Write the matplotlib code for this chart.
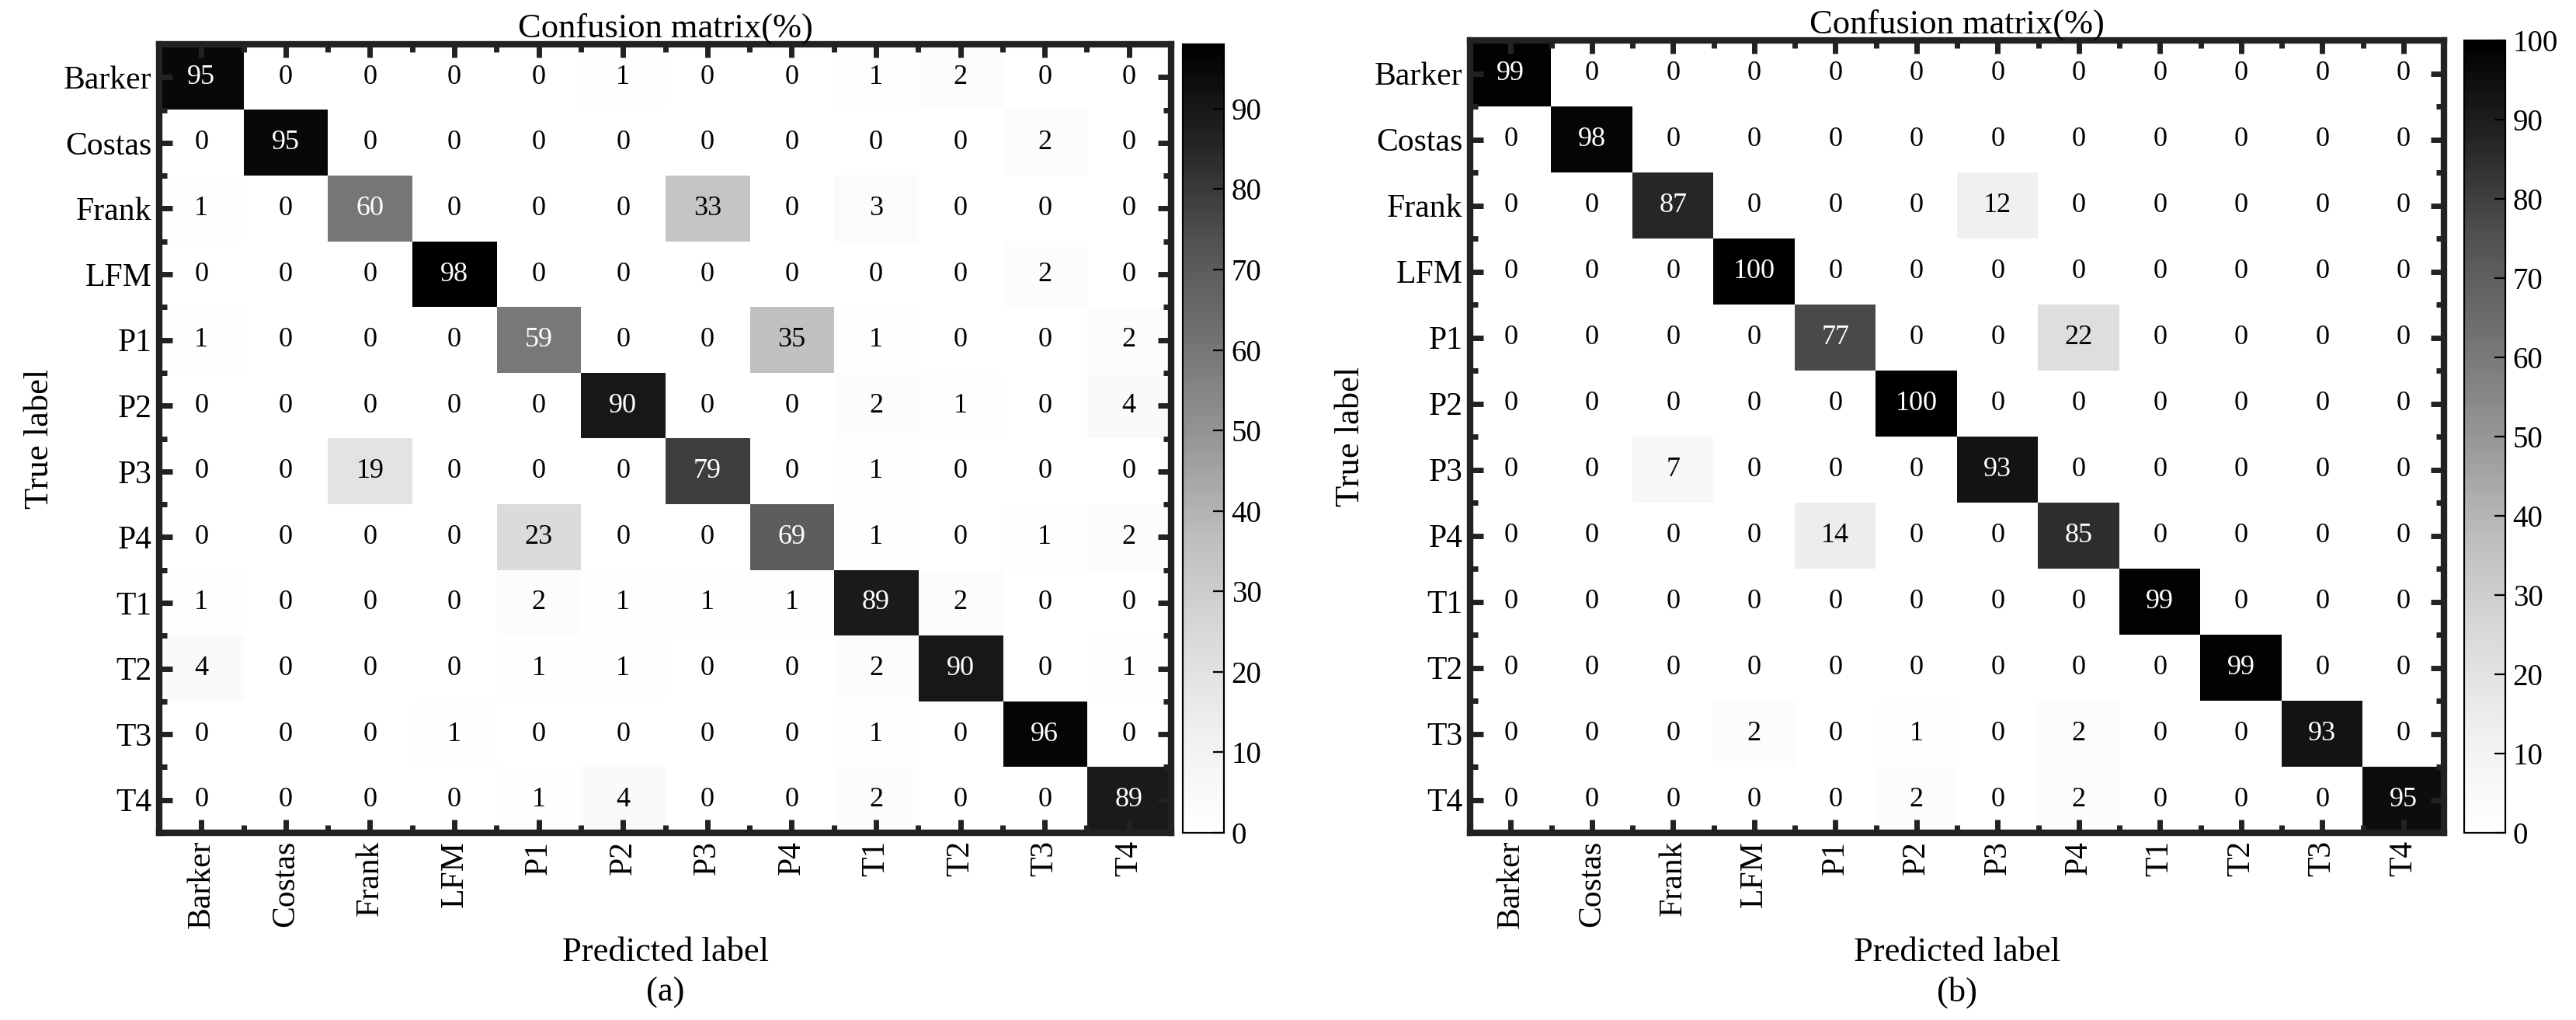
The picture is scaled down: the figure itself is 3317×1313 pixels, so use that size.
import matplotlib
matplotlib.use("Agg")
import matplotlib.pyplot as plt
from matplotlib.ticker import MultipleLocator
import numpy as np

plt.rcParams['font.family'] = ['Liberation Serif', 'DejaVu Serif']

labels = ["Barker", "Costas", "Frank", "LFM", "P1", "P2", "P3", "P4", "T1", "T2", "T3", "T4"]

cm_a = np.array([
    [95, 0, 0, 0, 0, 1, 0, 0, 1, 2, 0, 0],
    [0, 95, 0, 0, 0, 0, 0, 0, 0, 0, 2, 0],
    [1, 0, 60, 0, 0, 0, 33, 0, 3, 0, 0, 0],
    [0, 0, 0, 98, 0, 0, 0, 0, 0, 0, 2, 0],
    [1, 0, 0, 0, 59, 0, 0, 35, 1, 0, 0, 2],
    [0, 0, 0, 0, 0, 90, 0, 0, 2, 1, 0, 4],
    [0, 0, 19, 0, 0, 0, 79, 0, 1, 0, 0, 0],
    [0, 0, 0, 0, 23, 0, 0, 69, 1, 0, 1, 2],
    [1, 0, 0, 0, 2, 1, 1, 1, 89, 2, 0, 0],
    [4, 0, 0, 0, 1, 1, 0, 0, 2, 90, 0, 1],
    [0, 0, 0, 1, 0, 0, 0, 0, 1, 0, 96, 0],
    [0, 0, 0, 0, 1, 4, 0, 0, 2, 0, 0, 89],
])

cm_b = np.array([
    [99, 0, 0, 0, 0, 0, 0, 0, 0, 0, 0, 0],
    [0, 98, 0, 0, 0, 0, 0, 0, 0, 0, 0, 0],
    [0, 0, 87, 0, 0, 0, 12, 0, 0, 0, 0, 0],
    [0, 0, 0, 100, 0, 0, 0, 0, 0, 0, 0, 0],
    [0, 0, 0, 0, 77, 0, 0, 22, 0, 0, 0, 0],
    [0, 0, 0, 0, 0, 100, 0, 0, 0, 0, 0, 0],
    [0, 0, 7, 0, 0, 0, 93, 0, 0, 0, 0, 0],
    [0, 0, 0, 0, 14, 0, 0, 85, 0, 0, 0, 0],
    [0, 0, 0, 0, 0, 0, 0, 0, 99, 0, 0, 0],
    [0, 0, 0, 0, 0, 0, 0, 0, 0, 99, 0, 0],
    [0, 0, 0, 2, 0, 1, 0, 2, 0, 0, 93, 0],
    [0, 0, 0, 0, 0, 2, 0, 2, 0, 0, 0, 95],
])

W, H = 3317, 1313
fig = plt.figure(figsize=(W / 200, H / 200), dpi=200)


def box(x0, y0, x1, y1):
    return [x0 / W, 1 - y1 / H, (x1 - x0) / W, (y1 - y0) / H]


def draw(mat, axbox, cbbox, vmax, cticks, letter):
    ax = fig.add_axes(box(*axbox))
    cax = fig.add_axes(box(*cbbox))
    im = ax.imshow(mat, cmap='Greys', vmin=0, vmax=vmax, aspect='auto')
    n = len(labels)
    for i in range(n):
        for j in range(n):
            v = mat[i, j]
            ax.text(j, i, str(v), ha='center', va='center', fontsize=13,
                    color='white' if v > vmax * 0.5 else 'black')
    ax.set_xticks(range(n))
    ax.set_xticklabels(labels, rotation=90, fontsize=15)
    ax.set_yticks(range(n))
    ax.set_yticklabels(labels, fontsize=15)
    ax.xaxis.set_minor_locator(MultipleLocator(0.5))
    ax.yaxis.set_minor_locator(MultipleLocator(0.5))
    ax.tick_params(which='major', direction='in', length=6, width=2.5,
                   top=True, right=True, color='#222222')
    ax.tick_params(which='minor', direction='in', length=3.5, width=2.5,
                   top=True, right=True, color='#222222')
    for s in ax.spines.values():
        s.set_linewidth(3)
        s.set_color('#222222')
    ax.set_title('Confusion matrix(%)', fontsize=16, pad=2)
    ax.set_xlabel('Predicted label', fontsize=16)
    ax.set_ylabel('True label', fontsize=16)
    xc = (axbox[0] + axbox[2]) / 2 / W
    fig.text(xc, 1 - 1278 / H, letter, ha='center', va='center', fontsize=16)
    cb = fig.colorbar(im, cax=cax, ticks=cticks)
    cb.ax.tick_params(labelsize=14, direction='in', length=5, width=0.8)
    cb.outline.set_linewidth(0.8)


draw(cm_a, (205, 57, 1508, 1072), (1523, 57, 1576, 1072), 98,
     list(range(0, 100, 10)), '(a)')
draw(cm_b, (1893, 52, 3147, 1072), (3173, 52, 3226, 1072), 100,
     list(range(0, 101, 10)), '(b)')

fig.savefig('out.png', dpi=200)
